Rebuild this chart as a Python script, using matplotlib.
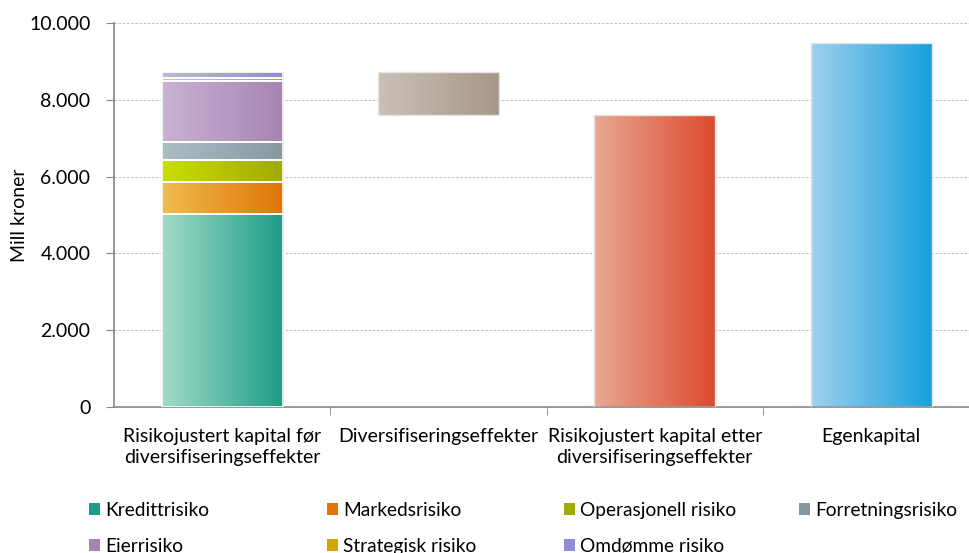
import numpy as np
import matplotlib
matplotlib.use('Agg')
import matplotlib.pyplot as plt
from matplotlib.colors import LinearSegmentedColormap
from matplotlib.patches import Patch
from matplotlib.ticker import FuncFormatter

plt.rcParams['font.family'] = ['Lato', 'DejaVu Sans']

# ---------------- data ----------------
categories = ["Risikojustert kapital før\ndiversifiseringseffekter",
              "Diversifiseringseffekter",
              "Risikojustert kapital etter\ndiversifiseringseffekter",
              "Egenkapital"]
risk_names = ["Kredittrisiko", "Markedsrisiko", "Operasjonell risiko",
              "Forretningsrisiko", "Eierrisiko", "Strategisk risiko",
              "Omdømme risiko"]
risk_values = [5030, 830, 575, 470, 1570, 90, 145]
diversification = -1110
capital_after = 7600
equity = 9480
y_ticks = [0, 2000, 4000, 6000, 8000, 10000]

# ---------------- styles ----------------
risk_colors = [("#a0dcc8", "#1e9c86"),
               ("#f0bc50", "#e07404"),
               ("#cadf00", "#a0aa00"),
               ("#aabec6", "#8898a2"),
               ("#cab2d4", "#a684b2"),
               ("#ecc858", "#d4a400"),
               ("#babade", "#8e8ed0")]
div_colors = ("#c9c0b8", "#a69888")
after_colors = ("#e9a892", "#dc4a2e")
equity_colors = ("#a0d0ee", "#14a0dc")

fig = plt.figure(figsize=(9.70, 5.53), dpi=100)
ax = fig.add_axes([114/970, 1-407.3/553, 1-114/970, (407.3-22.7)/553])

def grad_bar(patch, c0, c1):
    x, y = patch.get_x(), patch.get_y()
    w, h = patch.get_width(), patch.get_height()
    g = np.linspace(0, 1, 256).reshape(1, -1)
    cmap = LinearSegmentedColormap.from_list('g', [c0, c1])
    im = ax.imshow(g, extent=[x, x + w, y, y + h], cmap=cmap, aspect='auto',
                   origin='lower', zorder=2, interpolation='bilinear')
    im.set_clip_path(patch)

width = 0.56
bottom = 0
for val, (c0, c1) in zip(risk_values, risk_colors):
    b = ax.bar(0, val, width, bottom=bottom, facecolor='none',
               edgecolor='white', linewidth=1.2, zorder=3)[0]
    grad_bar(b, c0, c1)
    bottom += val

total = sum(risk_values)
b = ax.bar(1, -diversification, width, bottom=total + diversification,
           facecolor='none', edgecolor='#e4e4e4', linewidth=1, zorder=3)[0]
grad_bar(b, *div_colors)
b = ax.bar(2, capital_after, width, bottom=0, facecolor='none',
           edgecolor='#e4e4e4', linewidth=1, zorder=3)[0]
grad_bar(b, *after_colors)
b = ax.bar(3, equity, width, bottom=0, facecolor='none',
           edgecolor='#e4e4e4', linewidth=1, zorder=3)[0]
grad_bar(b, *equity_colors)

ax.set_xlim(-0.5, (970 - 221.5) / 216.5)
ax.set_ylim(0, 10000)
ax.set_yticks(y_ticks)
ax.yaxis.set_major_formatter(FuncFormatter(lambda v, p: f"{int(v):,}".replace(",", ".")))
ax.set_xticks(range(len(categories)))
ax.set_xticklabels(categories, fontsize=14, linespacing=1.3)
ax.set_xticks([0.5, 1.5, 2.5], minor=True)
ax.tick_params(axis='x', which='major', length=0, pad=15)
ax.tick_params(axis='x', which='minor', length=6, color='#868686', direction='out')
ax.tick_params(axis='y', length=6, color='#868686', pad=11, labelsize=14)
for s in ['top', 'right']:
    ax.spines[s].set_visible(False)
for s in ['left', 'bottom']:
    ax.spines[s].set_color('#868686')
    ax.spines[s].set_linewidth(1.2)
ax.grid(axis='y', color='#b4b4b4', linestyle=(0, (3, 2)), linewidth=0.6, zorder=0)
ax.set_axisbelow(True)
ax.set_ylabel("Mill kroner", fontsize=14, labelpad=1)

# legend (4 columns, 2 rows)
handles = [Patch(facecolor=c[1], edgecolor='none') for c in risk_colors]
col_x = [89, 327, 564, 799]
cols = [[0, 4], [1, 5], [2, 6], [3]]
for cx, idxs in zip(col_x, cols):
    fig.legend([handles[i] for i in idxs], [risk_names[i] for i in idxs],
               loc='upper left', bbox_to_anchor=(cx / 970, 1 - 502 / 553),
               frameon=False, fontsize=13.8, handlelength=0.55, handleheight=0.55,
               handletextpad=0.3, labelspacing=0.97, borderpad=0, borderaxespad=0)

fig.savefig("out.png", dpi=100)
